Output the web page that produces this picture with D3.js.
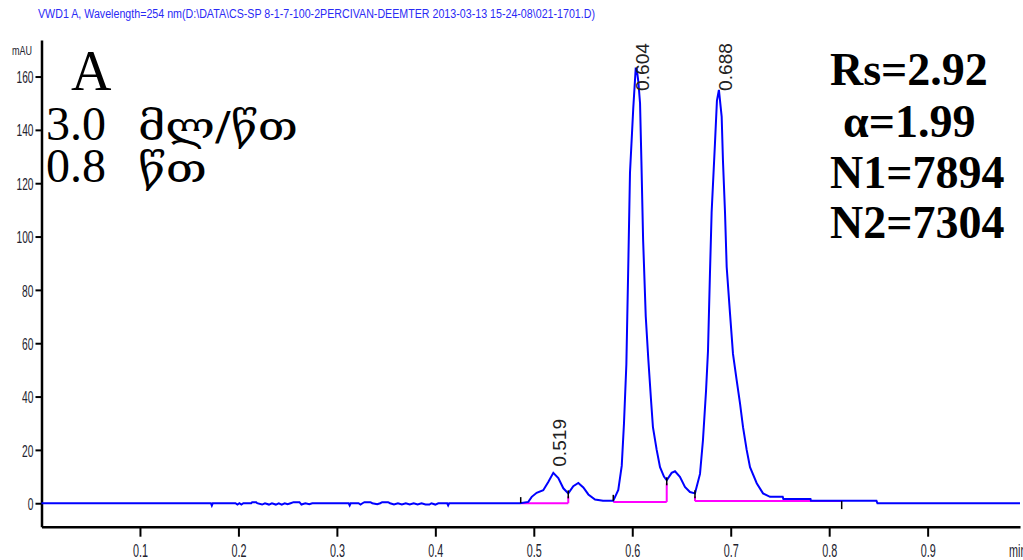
<!DOCTYPE html>
<html><head><meta charset="utf-8">
<script src="https://cdn.jsdelivr.net/npm/d3@7"></script>
<style>body{margin:0;background:#fff}svg{display:block}</style>
</head><body>
<svg id="c" width="1023" height="560"></svg>
<script>
// ---------- data ----------
const titleText = "VWD1 A, Wavelength=254 nm(D:\\DATA\\CS-SP 8-1-7-100-2PERCIVAN-DEEMTER 2013-03-13 15-24-08\\021-1701.D)";
const yUnit = "mAU";
const xUnit = "min";
const xTickValues = [0.1, 0.2, 0.3, 0.4, 0.5, 0.6, 0.7, 0.8, 0.9];
const xTickLabels = ["0.1", "0.2", "0.3", "0.4", "0.5", "0.6", "0.7", "0.8", "0.9"];
const yTickValues = [0, 20, 40, 60, 80, 100, 120, 140, 160];
const yTickLabels = ["0", "20", "40", "60", "80", "100", "120", "140", "160"];

const times = [0, 0.172, 0.173, 0.174, 0.197, 0.199, 0.201, 0.203, 0.205, 0.213, 0.214, 0.218, 0.219,
  0.224, 0.227, 0.231, 0.234, 0.238, 0.241, 0.244, 0.247, 0.250, 0.253, 0.256, 0.262, 0.264, 0.268,
  0.272, 0.275, 0.312, 0.313, 0.314, 0.322, 0.324, 0.326, 0.328, 0.334, 0.336, 0.341, 0.344, 0.346,
  0.352, 0.354, 0.358, 0.362, 0.366, 0.370, 0.374, 0.378, 0.382, 0.386, 0.390, 0.394, 0.396, 0.400,
  0.403, 0.412, 0.413, 0.414, 0.486,
  0.4944, 0.4979, 0.5029, 0.5096, 0.5147, 0.5198, 0.5249, 0.5300, 0.5350, 0.5401, 0.5452, 0.5503,
  0.5554, 0.5622, 0.5703, 0.5807, 0.5858, 0.5893, 0.5916, 0.5940, 0.5960, 0.5977, 0.6010, 0.6035,
  0.6045, 0.6062, 0.6079, 0.6093, 0.6110, 0.6137, 0.6163, 0.6190, 0.6210, 0.6248, 0.6282, 0.6322,
  0.6350, 0.6400, 0.6434, 0.6484, 0.6535, 0.6586, 0.6637, 0.6688, 0.6718, 0.6749, 0.6769, 0.6789,
  0.6806, 0.6840, 0.6860, 0.6880, 0.6908, 0.6921, 0.6942, 0.6959, 0.6993, 0.7023, 0.7061, 0.7094,
  0.7125, 0.7162, 0.7196, 0.7264, 0.7328, 0.7399, 0.7528, 0.7535, 0.7810, 0.7815, 0.8480, 0.8490, 0.9938];
const signal = [0, 0, -0.9, 0, 0, -0.5, 0, -0.5, 0, 0, 0.4, 0.4, 0,
  -0.5, 0, -0.5, 0, -0.5, 0, -0.5, 0, -0.4, 0, 0.4, 0.4, -0.5, 0,
  -0.4, 0, 0, -0.8, 0, 0, -0.5, 0, 0.4, 0.4, 0, -0.4, 0, 0.4,
  0.4, 0, -0.5, 0, -0.5, 0, -0.5, 0, -0.5, 0, -0.5, -0.5, 0, -0.5,
  0, 0, -0.8, 0, 0,
  0.5, 2.4, 3.9, 4.9, 8, 11.4, 9.4, 5.6, 3.7, 6.4, 7.6, 5.9,
  3.3, 1.4, 0.9, 0.9, 5, 14, 30, 52, 90, 124, 148, 163,
  163, 158, 150, 128, 99, 70, 54, 39, 28.5, 20, 13.5, 10,
  8.6, 11.4, 12, 9.9, 6.1, 4.2, 3.7, 11, 23.6, 42, 57, 86,
  109, 135, 151, 155, 145, 128.6, 109, 88.6, 71, 56, 46, 37.5,
  28.5, 20, 13.5, 7.5, 3.7, 2.4, 2.4, 1.6, 1.6, 0.9, 0.9, 0, 0];

const peakTimes = [0.519, 0.604, 0.688];
const peakHeights = [11.4, 163, 155];
const peakLabels = ["0.519", "0.604", "0.688"];

const baseStart = [0.4867, 0.5807, 0.6637];
const baseEnd = [0.5350, 0.6350, 0.8127];
const baseLevel = [0, 0.5, 0.8];

const leftNotes = ["A", "3.0", "მლ/წთ", "0.8", "წთ"];
const rightNotes = ["Rs=2.92", "α=1.99", "N1=7894", "N2=7304"];

// ---------- drawing ----------
const svg = d3.select("#c");
const x = d3.scaleLinear().domain([0, 0.9938]).range([41.5, 1020]);
const y = d3.scaleLinear().domain([-8.8, 173.7]).range([526.7, 40]);
const pts = times.map((t, i) => [t, signal[i]]);
function signalAt(t) {
  const i = d3.bisector(d => d[0]).left(pts, t);
  if (i <= 0) return pts[0][1];
  if (i >= pts.length) return pts[pts.length - 1][1];
  const a = pts[i - 1], b = pts[i];
  return a[1] + (b[1] - a[1]) * (t - a[0]) / (b[0] - a[0]);
}
function squeeze(sel, k) {
  sel.each(function () {
    const L = this.getComputedTextLength();
    this.setAttribute("textLength", (L * k).toFixed(1));
    this.setAttribute("lengthAdjust", "spacingAndGlyphs");
  });
}
const tickFont = "'Liberation Sans', Arial, sans-serif";
const tickColor = "#22222e";

// title
svg.append("text").attr("x", 38).attr("y", 18).attr("fill", "#2a2af5")
  .style("font-family", tickFont).style("font-size", "12.5px")
  .attr("textLength", 557).attr("lengthAdjust", "spacingAndGlyphs").text(titleText);

// x axis
const gx = svg.append("g").attr("transform", `translate(0,${y.range()[0]})`);
gx.call(d3.axisBottom(x).tickValues(d3.range(1, 50).map(i => i * 0.02)).tickSize(5).tickSizeOuter(0).tickFormat(""));
gx.call(d3.axisBottom(x).tickValues(xTickValues).tickSize(10).tickSizeOuter(0).tickFormat((d, i) => xTickLabels[i]));
gx.selectAll("path.domain").attr("stroke", "#000").attr("stroke-width", 2.5);
gx.selectAll(".tick line").attr("stroke", "#000").attr("stroke-width", 2);
gx.selectAll(".tick text").attr("y", 30).attr("dy", 0).attr("fill", tickColor)
  .style("font-family", tickFont).style("font-size", "18px").call(squeeze, 0.6);

// y axis
const gy = svg.append("g").attr("transform", `translate(${x.range()[0]},0)`);
gy.call(d3.axisLeft(y).tickValues(d3.range(-5, 171, 5)).tickSize(3).tickSizeOuter(0).tickFormat(""));
gy.call(d3.axisLeft(y).tickValues(yTickValues).tickSize(6).tickSizeOuter(0).tickFormat((d, i) => yTickLabels[i]));
gy.selectAll("path.domain").attr("stroke", "#000").attr("stroke-width", 2.5);
gy.selectAll(".tick line").attr("stroke", "#000").attr("stroke-width", 2);
gy.selectAll(".tick text").attr("x", -8).attr("dy", "0.36em").attr("fill", tickColor)
  .style("font-family", tickFont).style("font-size", "17px").call(squeeze, 0.6);

// unit labels
svg.append("text").attr("x", 12).attr("y", 55).attr("fill", tickColor)
  .style("font-family", tickFont).style("font-size", "12px").text(yUnit).call(squeeze, 0.75);
svg.append("text").attr("x", 1009).attr("y", 557).attr("fill", tickColor)
  .style("font-family", tickFont).style("font-size", "18px").text(xUnit).call(squeeze, 0.6);

// integration baselines
const plot = svg.append("g");
baseStart.forEach((t0, i) => {
  const t1 = baseEnd[i], lv = baseLevel[i];
  plot.append("line").attr("x1", x(t0)).attr("x2", x(t1)).attr("y1", y(lv)).attr("y2", y(lv))
    .attr("stroke", "#ff00ff").attr("stroke-width", 2);
});

// chromatogram
plot.append("path").datum(pts)
  .attr("d", d3.line().x(d => x(d[0])).y(d => y(d[1])))
  .attr("fill", "none").attr("stroke", "#0000ff").attr("stroke-width", 2);

// drop lines + markers
baseStart.forEach((t0, i) => {
  [t0, baseEnd[i]].forEach((t, j) => {
    const lv = baseLevel[i], cv = signalAt(t);
    const yc = y(cv), yb = y(lv);
    if (cv > lv + 1) {
      plot.append("line").attr("x1", x(t)).attr("x2", x(t)).attr("y1", yb).attr("y2", yc + 3)
        .attr("stroke", "#ff00ff").attr("stroke-width", 2);
      plot.append("line").attr("x1", x(t)).attr("x2", x(t)).attr("y1", yc - 3).attr("y2", yc + 5)
        .attr("stroke", "#000").attr("stroke-width", 1.5);
    } else if (j === 0) {
      plot.append("line").attr("x1", x(t)).attr("x2", x(t)).attr("y1", yc - 6).attr("y2", yc)
        .attr("stroke", "#000").attr("stroke-width", 1.5);
    } else {
      plot.append("line").attr("x1", x(t)).attr("x2", x(t)).attr("y1", yb).attr("y2", yb + 8)
        .attr("stroke", "#000").attr("stroke-width", 1.5);
    }
  });
});

// peak labels
peakTimes.forEach((t, i) => {
  const px = x(t) + 13;
  const py = Math.max(y(peakHeights[i]) - 6, 91);
  svg.append("text").attr("transform", `translate(${px},${py}) rotate(-90)`)
    .attr("fill", "#222").style("font-family", tickFont).style("font-size", "18px")
    .attr("textLength", 48).attr("lengthAdjust", "spacingAndGlyphs").text(peakLabels[i]);
});

// annotations (left)
const serif = "'Liberation Serif', 'Times New Roman', serif";
svg.append("text").attr("x", 71).attr("y", 90).style("font-family", serif).style("font-size", "56px").text(leftNotes[0]);
svg.append("text").attr("x", 46).attr("y", 140).style("font-family", serif).style("font-size", "48px").text(leftNotes[1]);
svg.append("text").attr("x", 138).attr("y", 140).style("font-family", "'DejaVu Serif', serif").style("font-size", "40px")
  .attr("textLength", 160).attr("lengthAdjust", "spacingAndGlyphs").text(leftNotes[2]);
svg.append("text").attr("x", 46).attr("y", 182).style("font-family", serif).style("font-size", "48px").text(leftNotes[3]);
svg.append("text").attr("x", 138).attr("y", 182).style("font-family", "'DejaVu Serif', serif").style("font-size", "40px")
  .attr("textLength", 69).attr("lengthAdjust", "spacingAndGlyphs").text(leftNotes[4]);

// annotations (right)
const rightX = [830, 843, 830, 830];
const rightY = [85, 137, 188, 238];
rightNotes.forEach((s, i) => {
  svg.append("text").attr("x", rightX[i]).attr("y", rightY[i]).style("font-family", serif)
    .style("font-size", "46px").style("font-weight", "bold").text(s);
});
</script>
</body></html>
